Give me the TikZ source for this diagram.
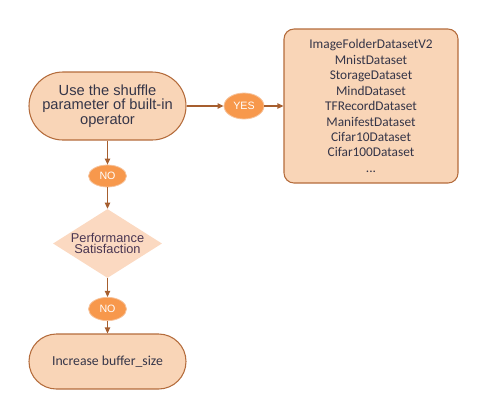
\documentclass[tikz,border=0pt]{standalone}
\usepackage{fontspec}
\setmainfont{Liberation Sans}
\newfontfamily\bodyfont{Carlito}
\usetikzlibrary{shapes.geometric,arrows.meta}
\definecolor{peach}{HTML}{F9D5B7}
\definecolor{peachlight}{HTML}{FBD9C1}
\definecolor{edgebrown}{HTML}{B46C3C}
\definecolor{linebrown}{HTML}{A65E2E}
\definecolor{badge}{HTML}{F7984C}
\definecolor{badgeedge}{HTML}{F6C39C}
\definecolor{ink}{HTML}{353548}
\definecolor{inkpurple}{HTML}{4A3652}
\tikzset{
  terminal/.style={draw=edgebrown, line width=0.8pt, fill=peach, text=ink,
    minimum width=117.75pt, align=center, inner sep=0pt},
  listbox/.style={draw=edgebrown, line width=0.8pt, fill=peach, text=ink,
    rounded corners=7.5pt, minimum width=130.5pt, minimum height=115.5pt,
    align=center, inner sep=0pt, font=\bodyfont\fontsize{10}{11.6}\selectfont},
  decision/.style={diamond, fill=peachlight, minimum width=81.75pt,
    minimum height=51.75pt, inner sep=0pt},
  decisiontext/.style={text=inkpurple, align=center, inner sep=0pt,
    font=\fontsize{9.6}{8.8}\selectfont},
  badgenode/.style={ellipse, draw=badgeedge, line width=0.6pt, fill=badge, text=white,
    inner sep=0pt, font=\fontsize{8}{9}\selectfont},
  flow/.style={draw=linebrown, line width=0.8pt,
    -{Triangle[length=4.5pt, width=4pt]}}
}
\begin{document}
\begin{tikzpicture}[x=0.75pt, y=-0.75pt]
  \useasboundingbox (0,0) rectangle (488,419);
  % start step
  \node[terminal, rounded corners=25.5pt, minimum height=51pt,
        font=\fontsize{11}{10.9}\selectfont] (shuffle) at (107.5,106)
        {Use the shuffle\\parameter of built-in\\operator};
  % datasets that support shuffle
  \node[listbox] (datasets) at (371,106)
        {ImageFolderDatasetV2\\MnistDataset\\StorageDataset\\MindDataset\\TFRecordDataset\\ManifestDataset\\Cifar10Dataset\\Cifar100Dataset\\...};
  \node[badgenode, minimum width=30pt, minimum height=19.5pt] (yes) at (244,106) {YES};
  \node[badgenode, minimum width=28.5pt, minimum height=16.5pt] (no1) at (107.5,176) {NO};
  % decision: the diamond keeps its size, the text sits on top
  \node[decision] (perf) at (107.5,243.5) {};
  \node[decisiontext] (perftext) at (perf.center) {Performance\\Satisfaction};
  \node[badgenode, minimum width=28.5pt, minimum height=17.5pt] (no2) at (107.5,309) {NO};
  % final step
  \node[terminal, rounded corners=20.6pt, minimum height=41.25pt,
        font=\bodyfont\fontsize{10.3}{12}\selectfont] (buffer) at (107.5,361.5)
        {Increase buffer\_size};
  % connectors
  \draw[flow] (shuffle.east) -- (yes.west);
  \draw[flow] (yes.east) -- (datasets.west);
  \draw[flow] (shuffle.south) -- (no1.north);
  \draw[flow] (no1.south) -- (perf.north);
  \draw[flow] (perf.south) -- (no2.north);
  \draw[flow] (no2.south) -- (buffer.north);
\end{tikzpicture}
\end{document}
